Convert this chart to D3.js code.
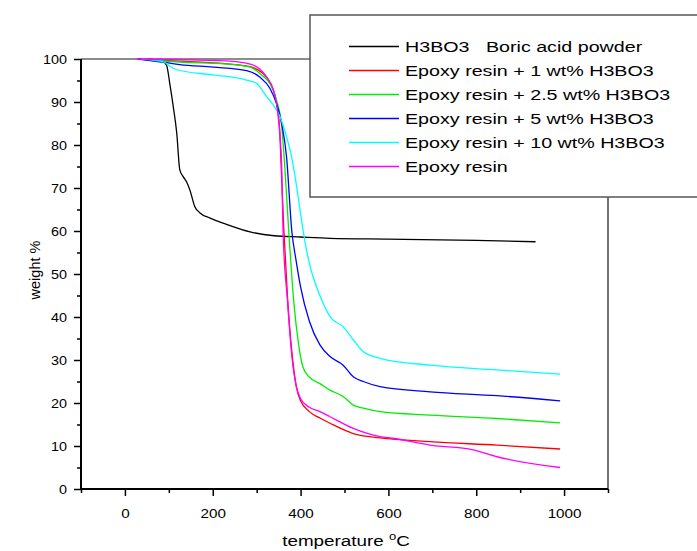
<!DOCTYPE html>
<html>
<head>
<meta charset="utf-8">
<script src="https://cdn.jsdelivr.net/npm/d3@7"></script>
<style>
  body { margin: 0; background: #fff; }
  svg { display: block; font-family: "Liberation Sans", Arial, sans-serif; }
</style>
</head>
<body>
<main></main>
<script>
// TGA curves: [temperature, weight %]
var boricAcid = [[30,100],[60,99.9],[85,99.5],[95,98.5],[102,94.4],[110,89],[118,82.8],[125,74.2],[133,72.6],[140,71.5],[148,69.5],[159,65.7],[171,64.2],[194,63.0],[230,61.6],[285,59.8],[340,58.9],[400,58.6],[467,58.3],[600,58.1],[800,57.8],[935,57.5]];
var epoxy1 = [[30,100],[100,99.6],[239,98.8],[285,98.2],[310,97],[330,94.5],[345,90],[352,84],[357,72],[362,60],[370,45],[380,32],[390,24],[400,20.5],[420,18],[444,16.5],[467,15.3],[520,12.9],[581,11.9],[695,11],[847,10.2],[991,9.3]];
var epoxy25 = [[30,100],[125,99.3],[239,98.8],[285,98.1],[311,96.3],[330,94.3],[345,90.5],[357,84.3],[364,75],[373,60],[385,43],[395,34],[405,28.5],[420,26],[444,24.5],[467,23],[497,21.5],[520,19.5],[543,18.8],[581,18],[695,17.2],[847,16.4],[991,15.4]];
var epoxy5 = [[30,100],[91,99.2],[125,98.7],[201,98.1],[277,97.3],[307,95.8],[330,93.2],[345,89.7],[357,85],[368,77.3],[380,60],[390,53],[400,47],[420,39],[444,33.5],[467,30.8],[497,28.8],[520,26.1],[543,25],[581,23.8],[695,22.6],[847,21.7],[991,20.5]];
var epoxy10 = [[38,100],[90,99.3],[100,98.5],[118,97.5],[200,96.3],[277,95.1],[300,94.3],[323,91.2],[338,89.3],[353,86.6],[368,81.9],[380,77],[390,71],[400,64],[410,57.5],[420,52.5],[444,45],[467,40.1],[497,37.7],[520,34.7],[543,31.9],[581,30.4],[695,28.8],[847,27.7],[991,26.7]];
var epoxyPure = [[27,100],[150,99.8],[239,99.5],[285,98.8],[307,97.7],[323,95.8],[338,92.8],[349,86.6],[357,75],[360,60],[370,44],[380,31],[390,24],[400,21],[420,19],[444,18],[467,16.8],[520,14.1],[581,12.2],[610,11.8],[695,10.2],[793,9.1],[847,7.5],[991,5.0]];

var seriesNames = ['H3BO3   Boric acid powder', 'Epoxy resin + 1 wt% H3BO3', 'Epoxy resin + 2.5 wt% H3BO3', 'Epoxy resin + 5 wt% H3BO3', 'Epoxy resin + 10 wt% H3BO3', 'Epoxy resin'];
var seriesColors = ['#000000', '#ff0000', '#00ee00', '#0000ff', '#00ffff', '#ff00ff'];
var seriesData = [boricAcid, epoxy1, epoxy25, epoxy5, epoxy10, epoxyPure];

var xTicks = [0, 200, 400, 600, 800, 1000];
var yTicks = [0, 10, 20, 30, 40, 50, 60, 70, 80, 90, 100];

var width = 697, height = 551;
var stretch = 1.22; // text in the original is drawn wide

var svg = d3.select('main').append('svg')
    .attr('width', width)
    .attr('height', height);

var x = d3.scaleLinear().domain([-100, 1100]).range([81, 608]);
var y = d3.scaleLinear().domain([0, 100]).range([489, 59]);

// frame: top and right lines
svg.append('line')
    .attr('x1', x(-100)).attr('x2', x(1100))
    .attr('y1', y(100)).attr('y2', y(100))
    .attr('stroke', '#666').attr('stroke-width', 1.5);
svg.append('line')
    .attr('x1', x(1100)).attr('x2', x(1100))
    .attr('y1', y(100)).attr('y2', y(0))
    .attr('stroke', '#444').attr('stroke-width', 1.5);

// curves
var line = d3.line()
    .x(d => x(d[0]))
    .y(d => y(d[1]))
    .curve(d3.curveMonotoneX);

svg.selectAll('.curve')
    .data(seriesData)
    .enter().append('path')
    .attr('class', 'curve')
    .attr('d', d => line(d))
    .attr('fill', 'none')
    .attr('stroke', (d, i) => seriesColors[i])
    .attr('stroke-width', 1.3);

// axes
var xAxis = svg.append('g')
    .attr('transform', 'translate(0,' + y(0) + ')')
    .call(d3.axisBottom(x).tickValues(xTicks).tickSize(7).tickFormat(d3.format('d')));
svg.append('g')
    .attr('transform', 'translate(0,' + y(0) + ')')
    .call(d3.axisBottom(x).tickValues(d3.range(-100, 1101, 200)).tickSize(4).tickFormat(''))
    .call(g => g.select('.domain').remove());

var yAxis = svg.append('g')
    .attr('transform', 'translate(' + x(-100) + ',0)')
    .call(d3.axisLeft(y).tickValues(yTicks).tickSize(7));
svg.append('g')
    .attr('transform', 'translate(' + x(-100) + ',0)')
    .call(d3.axisLeft(y).tickValues(d3.range(5, 100, 10)).tickSize(4).tickFormat(''))
    .call(g => g.select('.domain').remove());

svg.selectAll('.domain').attr('stroke', '#000').attr('stroke-width', 2);
svg.selectAll('.tick line').attr('stroke', '#000').attr('stroke-width', 1.5);
xAxis.selectAll('.domain').attr('d', 'M' + x(-100) + ',0H' + x(1100));
yAxis.selectAll('.domain').attr('d', 'M0,' + y(100) + 'V' + y(0));
xAxis.selectAll('.tick text')
    .attr('font-size', 12.5).attr('font-family', 'Liberation Sans, Arial, sans-serif')
    .attr('y', 20).attr('dy', '0.71em').attr('fill', '#000')
    .attr('transform', 'scale(' + stretch + ',1)');
yAxis.selectAll('.tick text')
    .attr('font-size', 12.5).attr('font-family', 'Liberation Sans, Arial, sans-serif')
    .attr('x', -14 / 1.15).attr('fill', '#000')
    .attr('transform', 'scale(1.15,1)');

// axis titles
var xt = svg.append('text')
    .attr('transform', 'translate(346,546) scale(1.3,1)')
    .attr('text-anchor', 'middle')
    .attr('font-size', 14.5);
xt.append('tspan').text('temperature ');
xt.append('tspan').attr('font-size', 10).attr('dy', -6).text('o');
xt.append('tspan').attr('dy', 6).text('C');

svg.append('text')
    .attr('transform', 'translate(40,270) rotate(-90)')
    .attr('text-anchor', 'middle')
    .attr('font-size', 14.5)
    .text('weight %');

// legend box
var legend = svg.append('g');
legend.append('rect')
    .attr('x', 310).attr('y', 15)
    .attr('width', 420).attr('height', 182)
    .attr('fill', '#fff')
    .attr('stroke', '#555').attr('stroke-width', 1.5);

var rows = legend.selectAll('.row')
    .data(seriesNames)
    .enter().append('g')
    .attr('class', 'row')
    .attr('transform', (d, i) => 'translate(0,' + (46.5 + i * 24) + ')');
rows.append('line')
    .attr('x1', 349).attr('x2', 399)
    .attr('stroke', (d, i) => seriesColors[i])
    .attr('stroke-width', 1.3);
rows.append('text')
    .attr('transform', 'translate(405,5.5) scale(1.27,1)')
    .attr('font-size', 15.5)
    .attr('xml:space', 'preserve')
    .style('white-space', 'pre')
    .text(d => d);
</script>
</body>
</html>
